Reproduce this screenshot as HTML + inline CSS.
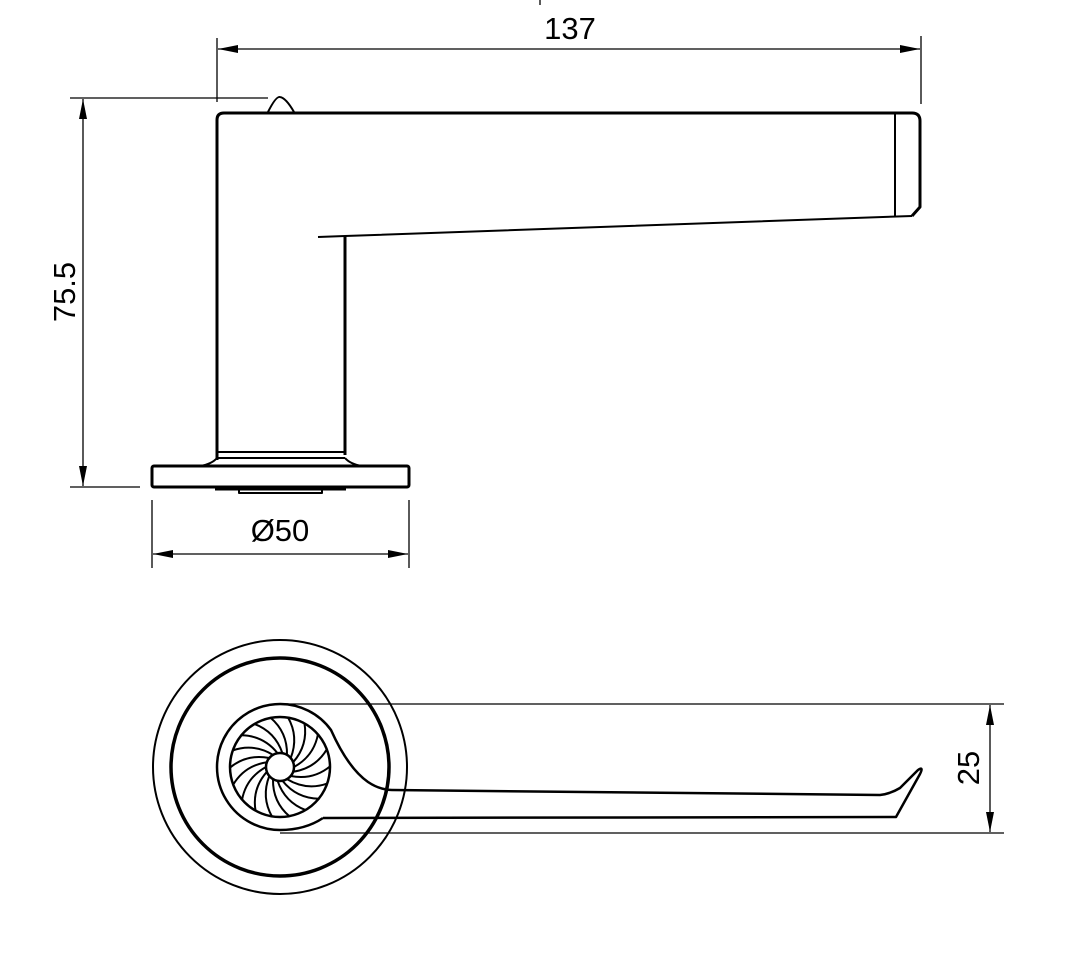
<!DOCTYPE html>
<html><head><style>body{margin:0;background:#fff}svg{display:block}</style></head><body>
<svg width="1074" height="968" viewBox="0 0 1074 968" xmlns="http://www.w3.org/2000/svg" font-family="Liberation Sans, sans-serif">
<defs>
<marker id="a" viewBox="0 0 20 8" refX="20" refY="4" markerWidth="20" markerHeight="8" orient="auto-start-reverse" markerUnits="userSpaceOnUse"><path d="M0,0 L20,4 L0,8 Z" fill="#000"/></marker>
</defs>
<g stroke="#000" fill="none" stroke-width="1.3">
<line x1="217" y1="38" x2="217" y2="102"/>
<line x1="921" y1="36" x2="921" y2="104"/>
<line x1="218" y1="49" x2="920" y2="49" marker-start="url(#a)" marker-end="url(#a)"/>
<line x1="540" y1="0" x2="540" y2="5"/>
<line x1="70" y1="98" x2="268" y2="98"/>
<line x1="70" y1="487" x2="140" y2="487"/>
<line x1="83" y1="99" x2="83" y2="486" marker-start="url(#a)" marker-end="url(#a)"/>
<line x1="152" y1="500" x2="152" y2="568"/>
<line x1="409" y1="500" x2="409" y2="568"/>
<line x1="153" y1="554" x2="408" y2="554" marker-start="url(#a)" marker-end="url(#a)"/>
<line x1="280" y1="704" x2="1004" y2="704"/>
<line x1="280" y1="833" x2="1004" y2="833"/>
<line x1="990" y1="705" x2="990" y2="832" marker-start="url(#a)" marker-end="url(#a)"/>
</g>
<g stroke="#000" fill="none" stroke-width="3" stroke-linejoin="round">
<path d="M217,460 L217,120 Q217,113 224,113 L912,113 Q920,113 920,121 L920,207 L912,216"/>
<path d="M345,455 L345,236"/>
<path d="M318,237 L345,236 L912,216" stroke-width="2"/>
<line x1="895" y1="114" x2="895" y2="216" stroke-width="2"/>
<path d="M268,112 Q276,96 280,97 Q286,98 294,112" stroke-width="2"/>
<line x1="217" y1="452" x2="345" y2="452" stroke-width="2"/>
<line x1="217" y1="458" x2="345" y2="458" stroke-width="2"/>
<path d="M217,458 Q212,464 200,466 M345,458 Q350,464 362,466" stroke-width="2"/>
<rect x="152" y="466" width="257" height="21" rx="2"/>
<line x1="215" y1="489" x2="346" y2="489"/>
<path d="M239,489 L239,493 L322,493 L322,489" stroke-width="2"/>
<circle cx="280" cy="767" r="127" stroke-width="2"/>
<circle cx="280" cy="767" r="109" stroke-width="3.5"/>
<circle cx="280" cy="767" r="50" stroke-width="2.5"/>
<circle cx="280" cy="767" r="14" stroke-width="2.5"/>
<path d="M323,818 Q305,830 280,830 A63,63 0 1 1 331,730 Q348,768 368,782 Q380,790 392,790 L880,795 Q890,794 900,788 L918,770 Q924,766 920,774 L896,817 L323,818" stroke-width="2.5"/>
</g>
<g stroke="#000" stroke-width="2" fill="none">
<path id="b" d="M294,767 Q314,756 318,734"/>
<use href="#b" transform="rotate(20 280 767)"/><use href="#b" transform="rotate(40 280 767)"/><use href="#b" transform="rotate(60 280 767)"/><use href="#b" transform="rotate(80 280 767)"/><use href="#b" transform="rotate(100 280 767)"/><use href="#b" transform="rotate(120 280 767)"/><use href="#b" transform="rotate(140 280 767)"/><use href="#b" transform="rotate(160 280 767)"/><use href="#b" transform="rotate(180 280 767)"/><use href="#b" transform="rotate(200 280 767)"/><use href="#b" transform="rotate(220 280 767)"/><use href="#b" transform="rotate(240 280 767)"/><use href="#b" transform="rotate(260 280 767)"/><use href="#b" transform="rotate(280 280 767)"/><use href="#b" transform="rotate(300 280 767)"/><use href="#b" transform="rotate(320 280 767)"/><use href="#b" transform="rotate(340 280 767)"/>
</g>
<g font-size="31" fill="#000">
<text x="570" y="39" text-anchor="middle">137</text>
<text x="280" y="541" text-anchor="middle">Ø50</text>
<text transform="translate(75,292) rotate(-90)" text-anchor="middle">75.5</text>
<text transform="translate(979,768) rotate(-90)" text-anchor="middle">25</text>
</g>
</svg>
</body></html>
